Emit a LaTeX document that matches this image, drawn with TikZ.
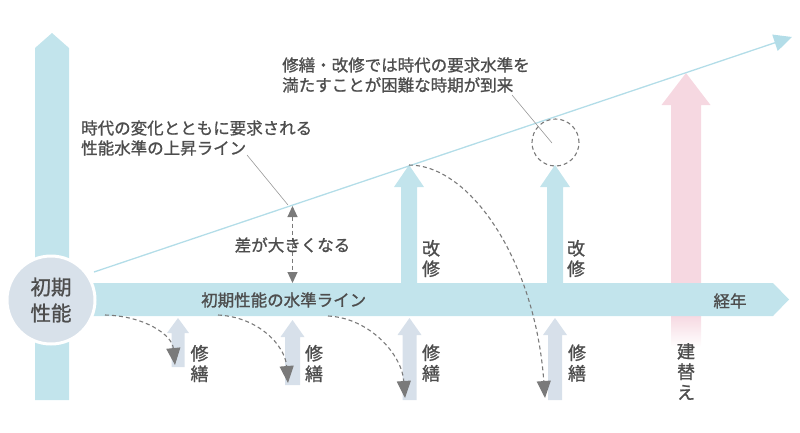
\documentclass[tikz,border=0pt]{standalone}
\usepackage{fontspec}
\setmainfont{Noto Sans CJK JP}[FakeBold=1.1]
\usetikzlibrary{arrows.meta}
\definecolor{barblue}{HTML}{C2E4EC}
\definecolor{lineblue}{HTML}{B3DDE8}
\definecolor{circfill}{HTML}{D8E1EA}
\definecolor{lowarrow}{HTML}{D7E0EA}
\definecolor{pinkarrow}{HTML}{F6D8E1}
\definecolor{txtgray}{HTML}{4D4D4D}
\definecolor{dashgray}{HTML}{7A7A7A}
\newcommand\blockup[7]{\fill[#1] ({#2-#6},#5) -- ({#2-#6},#4) -- ({#2-#7},#4) -- (#2,#3) -- ({#2+#7},#4) -- ({#2+#6},#4) -- ({#2+#6},#5) -- cycle;}
\tikzset{
  lbl/.style={text=txtgray, inner sep=0pt, font=\fontsize{16.5}{20}\selectfont},
  vlbl/.style={text=txtgray, inner sep=0pt, align=center, font=\fontsize{18}{20.5}\selectfont},
  curvearrow/.style={draw=dashgray, line width=1.1pt, dash pattern=on 4pt off 3pt, -{Triangle[length=17pt,width=14pt,fill=dashgray]}},
  gaparrow/.style={draw=dashgray, line width=1.1pt, dash pattern=on 4pt off 3pt, {Triangle[length=11pt,width=10pt]}-{Triangle[length=11pt,width=10pt]}},
  leader/.style={draw=gray!80, line width=0.6pt},
}
\begin{document}
\begin{tikzpicture}[x=1pt,y=-1pt]
\useasboundingbox (0,0) rectangle (800,432);
% vertical performance axis
\fill[barblue] (35,400) -- (35,48) -- (52,33) -- (69,48) -- (69,400) -- cycle;
% pink rebuild arrow
\blockup{pinkarrow}{686}{73}{105}{300}{15}{24.5}
\shade[top color=pinkarrow, bottom color=white] (671,315) rectangle (701,347);
% horizontal time axis
\fill[barblue] (51,283) -- (773,283) -- (789,299.5) -- (773,316) -- (51,316) -- cycle;
% improvement (kaishu) arrows
\blockup{barblue}{409}{165}{187}{290}{8}{15}
\blockup{barblue}{555}{165}{187}{290}{8}{15}
% repair (shuzen) arrows
\blockup{lowarrow}{178}{318}{333}{367}{6.5}{11}
\blockup{lowarrow}{292.5}{320}{337}{385}{7.5}{12}
\blockup{lowarrow}{409.5}{318}{335}{400}{7}{12}
\blockup{lowarrow}{555}{318}{335}{400}{7}{12}
% initial performance circle
\node[circle, fill=circfill, draw=white, line width=3pt, minimum size=88pt, inner sep=0pt,
      text=txtgray, align=center, font=\fontsize{20.5}{26}\selectfont] (init) at (51,300) {初期\\性能};
% coordinates
\coordinate (riseS) at (94,272);
\coordinate (riseE) at (792,37);
\coordinate (c1s) at (105,315);  \coordinate (c1e) at (175,365);
\coordinate (c2s) at (218,315);  \coordinate (c2e) at (288,383);
\coordinate (c3s) at (328,316);  \coordinate (c3e) at (405,398);
\coordinate (c4s) at (409,165);  \coordinate (c4e) at (545,398);
\coordinate (gapT) at (292.5,206); \coordinate (gapB) at (292.5,283);
\coordinate (ld1a) at (247,155); \coordinate (ld1b) at (288,205);
\coordinate (ld2a) at (512,95);  \coordinate (ld2b) at (552,143);
% rising requirement line
\draw[lineblue, line width=1.3pt, -{Triangle[length=18pt,width=17pt]}] (riseS) -- (riseE);
% dashed circle
\node[circle, draw=dashgray, line width=1.1pt, dash pattern=on 4pt off 3pt, minimum size=47pt, inner sep=0pt] (limit) at (555.5,142.5) {};
% dashed curves
\draw[curvearrow] (c1s) .. controls (145,316) and (172,335) .. (c1e);
\draw[curvearrow] (c2s) .. controls (258,317) and (285,345) .. (c2e);
\draw[curvearrow] (c3s) .. controls (370,318) and (402,355) .. (c3e);
\draw[curvearrow] (c4s) .. controls (470,165) and (535,260) .. (c4e);
% gap arrow
\draw[gaparrow] (gapT) -- (gapB);
% leader lines
\draw[leader] (ld1a) -- (ld1b);
\draw[leader] (ld2a) -- (ld2b);
% texts
\node[lbl, anchor=west, align=left] (riseLbl) at (81,138) {時代の変化とともに要求される\\性能水準の上昇ライン};
\node[lbl, anchor=west, align=left] (limitLbl) at (282,75) {修繕・改修では時代の要求水準を\\満たすことが困難な時期が到来};
\node[lbl] (gapLbl) at (292.5,245) {差が大きくなる};
\node[lbl, anchor=west] (baseLbl) at (201,300) {初期性能の水準ライン};
\node[lbl] (timeLbl) at (730,301) {経年};
\node[vlbl] (k1) at (431,258.5) {改\\修};
\node[vlbl] (k2) at (576,258.5) {改\\修};
\node[vlbl] (s1) at (199.5,363.5) {修\\繕};
\node[vlbl] (s2) at (314,363.5) {修\\繕};
\node[vlbl] (s3) at (431,363) {修\\繕};
\node[vlbl] (s4) at (577,363) {修\\繕};
\node[vlbl] (reb) at (686,371.5) {建\\替\\え};
\end{tikzpicture}
\end{document}
